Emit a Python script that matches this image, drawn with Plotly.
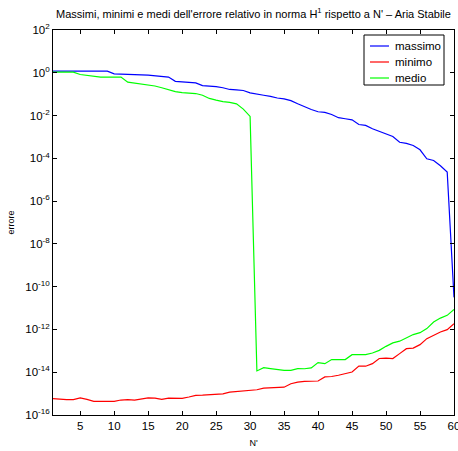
import plotly.graph_objects as go

# N' values
n_prime = list(range(1, 61))

# Relative error in H^1 norm: maximum over the sample
massimo = [1.19, 1.19, 1.19, 1.19, 1.19, 1.19, 1.19, 1.19, 1.19, 0.891,
           0.851, 0.832, 0.813, 0.794, 0.776, 0.741, 0.708, 0.631, 0.398, 0.372,
           0.355, 0.339, 0.251, 0.240, 0.224, 0.200, 0.166, 0.158, 0.148, 0.115,
           0.105, 0.0891, 0.0794, 0.0661, 0.0603, 0.0501, 0.0355, 0.0251, 0.0191, 0.0151,
           0.0141, 0.0112, 7.94e-3, 7.08e-3, 6.31e-3, 3.80e-3, 3.47e-3, 2.40e-3, 1.78e-3, 1.41e-3,
           1.05e-3, 5.62e-4, 5.01e-4, 3.98e-4, 2.51e-4, 9.55e-5, 7.94e-5, 4.47e-5, 2.29e-5, 3.16e-11]

# minimum over the sample
minimo = [5.89e-16, 5.50e-16, 5.25e-16, 5.25e-16, 6.31e-16, 5.37e-16, 4.37e-16, 4.37e-16, 4.37e-16, 4.37e-16,
          5.01e-16, 5.25e-16, 5.01e-16, 5.50e-16, 6.31e-16, 6.17e-16, 5.37e-16, 6.17e-16, 6.03e-16, 6.03e-16,
          6.92e-16, 8.32e-16, 8.51e-16, 8.91e-16, 1.00e-15, 9.77e-16, 1.17e-15, 1.26e-15, 1.32e-15, 1.41e-15,
          1.51e-15, 1.82e-15, 1.86e-15, 1.91e-15, 2.00e-15, 2.88e-15, 3.47e-15, 3.72e-15, 3.89e-15, 3.89e-15,
          6.03e-15, 6.31e-15, 7.24e-15, 8.71e-15, 1.02e-14, 1.95e-14, 1.91e-14, 2.51e-14, 4.37e-14, 4.57e-14,
          4.37e-14, 7.41e-14, 1.26e-13, 1.35e-13, 1.95e-13, 3.72e-13, 5.25e-13, 7.59e-13, 9.77e-13, 1.86e-12]

# mean over the sample
medio = [1.07, 1.07, 1.07, 1.07, 0.832, 0.759, 0.676, 0.631, 0.631, 0.631,
         0.631, 0.363, 0.331, 0.295, 0.263, 0.240, 0.200, 0.158, 0.132, 0.117,
         0.110, 0.107, 0.0891, 0.0631, 0.0525, 0.0447, 0.0417, 0.0355, 0.0200, 9.12e-3,
         1.15e-14, 1.62e-14, 1.48e-14, 1.35e-14, 1.23e-14, 1.23e-14, 1.48e-14, 1.45e-14, 1.58e-14, 2.82e-14,
         2.51e-14, 3.89e-14, 3.89e-14, 3.89e-14, 6.61e-14, 6.46e-14, 6.61e-14, 7.94e-14, 1.05e-13, 1.62e-13,
         2.34e-13, 2.82e-13, 3.98e-13, 5.75e-13, 7.08e-13, 1.10e-12, 2.24e-12, 3.39e-12, 4.57e-12, 8.71e-12]

series_names = ["massimo", "minimo", "medio"]
series_colors = ["#0000ff", "#ff0000", "#00ff00"]

x_ticks = [5, 10, 15, 20, 25, 30, 35, 40, 45, 50, 55, 60]
y_exponents = [2, 0, -2, -4, -6, -8, -10, -12, -14, -16]

font_family = "Liberation Sans, Arial, sans-serif"

W, H = 458, 451
M_L, M_R, M_T, M_B = 53, 4, 30, 36
PLOT_W = W - M_L - M_R
PLOT_H = H - M_T - M_B


def px_x(px):
    """Horizontal pixel position -> paper fraction of the plot area."""
    return (px - M_L) / PLOT_W


def px_y(py):
    """Vertical pixel position (from the top) -> paper fraction of the plot area."""
    return (H - M_B - py) / PLOT_H


fig = go.Figure()
for name, color, values in zip(series_names, series_colors, [massimo, minimo, medio]):
    fig.add_trace(go.Scatter(x=n_prime, y=values, mode="lines", name=name,
                             line=dict(color=color, width=1.2), showlegend=False))

# MATLAB-style boxed legend in the upper right corner
shapes = [dict(type="rect", xref="paper", yref="paper",
               x0=px_x(364), x1=px_x(444), y0=px_y(85), y1=px_y(35),
               line=dict(color="black", width=1), fillcolor="white", layer="above")]
annotations = []
for i, (name, color) in enumerate(zip(series_names, series_colors)):
    yy = px_y(46 + i * 16)
    shapes.append(dict(type="line", xref="paper", yref="paper",
                       x0=px_x(370), x1=px_x(389), y0=yy, y1=yy,
                       line=dict(color=color, width=1.2), layer="above"))
    annotations.append(dict(text=name, xref="paper", yref="paper",
                            x=px_x(393), y=yy, xanchor="left", yanchor="middle",
                            showarrow=False, font=dict(size=11.5, family=font_family, color="black")))

fig.update_layout(
    width=W, height=H,
    margin=dict(l=M_L, r=M_R, t=M_T, b=M_B, autoexpand=False),
    paper_bgcolor="white", plot_bgcolor="white",
    font=dict(family=font_family, size=11, color="black"),
    title=dict(
        text="Massimi, minimi e medi dell'errore relativo in norma H<sup>1</sup> rispetto a N' \u2013 Aria Stabile",
        x=253.5 / W, xanchor="center", y=1 - 14 / H, yanchor="middle",
        font=dict(size=11, family=font_family, color="black"),
    ),
    showlegend=False,
    shapes=shapes,
    annotations=annotations,
)

fig.update_xaxes(
    range=[1, 60], tickvals=x_ticks, ticktext=[str(v) for v in x_ticks],
    ticks="inside", ticklen=4, tickcolor="black", tickwidth=1,
    showline=True, linecolor="black", linewidth=1, mirror="ticks",
    showgrid=False, zeroline=False, ticklabeloverflow="allow", automargin=False,
    tickfont=dict(size=11.5),
    title=dict(text="N'", font=dict(size=9), standoff=8),
)

fig.update_yaxes(
    type="log", range=[-16, 2],
    tickvals=[10.0 ** e for e in y_exponents],
    ticktext=[f"10<sup>{e}</sup>" for e in y_exponents],
    ticks="inside", ticklen=4, tickcolor="black", tickwidth=1,
    showline=True, linecolor="black", linewidth=1, mirror="ticks",
    showgrid=False, zeroline=False, automargin=False,
    tickfont=dict(size=11.5),
    title=dict(text="errore", font=dict(size=9), standoff=9),
)

fig.write_html("out.html")
